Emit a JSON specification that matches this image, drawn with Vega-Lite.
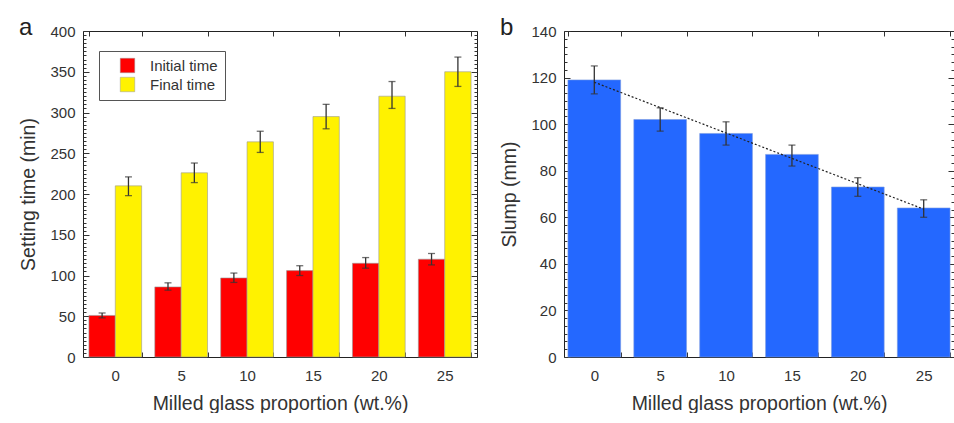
{
  "$schema": "https://vega.github.io/schema/vega-lite/v6.json",
  "background": "white",
  "padding": {"left": 18, "top": 15, "right": 0, "bottom": 0},
  "spacing": 21,
  "config": {
    "font": "Liberation Sans",
    "view": {"stroke": "#222", "strokeWidth": 1},
    "axis": {"labelFont": "Liberation Sans", "titleFont": "Liberation Sans", "labelColor": "#333", "titleColor": "#333", "labelFontSize": 15, "titleFontSize": 19.5, "titleFontWeight": "normal", "tickColor": "#333", "tickWidth": 1, "domainColor": "#333", "grid": false, "labelOverlap": false, "labelFlush": false, "domain": false},
    "title": {"font": "Liberation Sans", "fontSize": 24, "fontWeight": "normal", "color": "#222", "anchor": "start", "frame": "bounds"},
    "legend": {"labelFont": "Liberation Sans"}
  },
  "hconcat": [
    {
      "title": {"text": "a", "dy": 20},
      "width": 394,
      "height": 326,
      "data": {"values": [
        {"pct": "0", "series": "Initial time", "value": 51, "lo": 48, "hi": 54},
        {"pct": "0", "series": "Final time", "value": 210, "lo": 198, "hi": 221},
        {"pct": "5", "series": "Initial time", "value": 86, "lo": 82, "hi": 91},
        {"pct": "5", "series": "Final time", "value": 226, "lo": 214, "hi": 238},
        {"pct": "10", "series": "Initial time", "value": 97, "lo": 91.5, "hi": 103},
        {"pct": "10", "series": "Final time", "value": 264, "lo": 251, "hi": 277},
        {"pct": "15", "series": "Initial time", "value": 106, "lo": 100, "hi": 112},
        {"pct": "15", "series": "Final time", "value": 295, "lo": 280, "hi": 310},
        {"pct": "20", "series": "Initial time", "value": 115, "lo": 109, "hi": 122},
        {"pct": "20", "series": "Final time", "value": 320, "lo": 305, "hi": 338},
        {"pct": "25", "series": "Initial time", "value": 120, "lo": 113, "hi": 127},
        {"pct": "25", "series": "Final time", "value": 350, "lo": 332, "hi": 368}
      ]},
      "layer": [
        {
          "mark": {"type": "bar", "stroke": "#999", "strokeWidth": 0.6},
          "encoding": {
            "x": {"field": "pct", "type": "ordinal", "sort": ["0", "5", "10", "15", "20", "25"], "scale": {"paddingInner": 0.2, "paddingOuter": 0.09},
              "axis": {"orient": "bottom", "title": "Milled glass proportion (wt.%)", "labelAngle": 0, "tickBand": "extent", "offset": -5, "tickSize": 5, "labelPadding": 11, "titlePadding": 11}},
            "xOffset": {"field": "series", "type": "nominal", "sort": ["Initial time", "Final time"], "scale": {"paddingInner": 0, "paddingOuter": 0}},
            "y": {"field": "value", "type": "quantitative", "scale": {"domain": [0, 400], "nice": false},
              "axis": {"orient": "left", "title": "Setting time (min)", "values": [0, 50, 100, 150, 200, 250, 300, 350, 400], "offset": -6, "tickSize": 6, "labelPadding": 8, "titlePadding": 11}},
            "color": {"field": "series", "type": "nominal", "sort": ["Initial time", "Final time"], "scale": {"domain": ["Initial time", "Final time"], "range": ["#ff0000", "#fff200"]},
              "legend": {"orient": "none", "legendX": 16, "legendY": 20, "title": null, "direction": "vertical", "symbolType": "square", "symbolSize": 210, "symbolStrokeWidth": 0.5, "symbolStrokeColor": "#999", "symbolOpacity": 1, "labelFontSize": 15, "labelColor": "#333", "strokeColor": "#555", "fillColor": "white", "padding": 7, "rowPadding": 2, "labelOffset": 15, "symbolOffset": 14}}
          }
        },
        {
          "mark": {"type": "rule", "color": "#333", "strokeWidth": 1.3},
          "encoding": {
            "x": {"field": "pct", "type": "ordinal", "sort": ["0", "5", "10", "15", "20", "25"], "axis": {"orient": "top", "labels": false, "title": null, "tickBand": "extent", "offset": -5, "tickSize": 5}},
            "xOffset": {"field": "series", "type": "nominal", "sort": ["Initial time", "Final time"]},
            "y": {"field": "lo", "type": "quantitative", "axis": {"orient": "right", "labels": false, "title": null, "values": [0, 50, 100, 150, 200, 250, 300, 350, 400], "offset": -6, "tickSize": 6}},
            "y2": {"field": "hi"}
          }
        },
        {
          "mark": {"type": "tick", "color": "#333", "size": 7, "thickness": 1.3},
          "encoding": {
            "x": {"field": "pct", "type": "ordinal", "sort": ["0", "5", "10", "15", "20", "25"], "axis": null},
            "xOffset": {"field": "series", "type": "nominal", "sort": ["Initial time", "Final time"]},
            "y": {"field": "lo", "type": "quantitative", "axis": {"orient": "left", "labels": false, "title": null, "values": [5,10,15,20,25,30,35,40,45,55,60,65,70,75,80,85,90,95,105,110,115,120,125,130,135,140,145,155,160,165,170,175,180,185,190,195,205,210,215,220,225,230,235,240,245,255,260,265,270,275,280,285,290,295,305,310,315,320,325,330,335,340,345,355,360,365,370,375,380,385,390,395], "offset": -3, "tickSize": 3}}
          }
        },
        {
          "mark": {"type": "tick", "color": "#333", "size": 7, "thickness": 1.3},
          "encoding": {
            "x": {"field": "pct", "type": "ordinal", "sort": ["0", "5", "10", "15", "20", "25"], "axis": null},
            "xOffset": {"field": "series", "type": "nominal", "sort": ["Initial time", "Final time"]},
            "y": {"field": "hi", "type": "quantitative", "axis": {"orient": "right", "labels": false, "title": null, "values": [5,10,15,20,25,30,35,40,45,55,60,65,70,75,80,85,90,95,105,110,115,120,125,130,135,140,145,155,160,165,170,175,180,185,190,195,205,210,215,220,225,230,235,240,245,255,260,265,270,275,280,285,290,295,305,310,315,320,325,330,335,340,345,355,360,365,370,375,380,385,390,395], "offset": -3, "tickSize": 3}}
          }
        }
      ],
      "resolve": {"axis": {"x": "independent", "y": "independent"}}
    },
    {
      "title": {"text": "b", "dy": 20},
      "width": 390,
      "height": 326,
      "data": {"values": [
        {"pct": "0", "slump": 119, "lo": 113, "hi": 125},
        {"pct": "5", "slump": 102, "lo": 97, "hi": 107},
        {"pct": "10", "slump": 96, "lo": 91, "hi": 101},
        {"pct": "15", "slump": 87, "lo": 82, "hi": 91},
        {"pct": "20", "slump": 73, "lo": 69, "hi": 77},
        {"pct": "25", "slump": 64, "lo": 60, "hi": 67.5}
      ]},
      "layer": [
        {
          "mark": {"type": "bar", "color": "#2468ff", "stroke": "#7a9ae0", "strokeWidth": 0.6},
          "encoding": {
            "x": {"field": "pct", "type": "ordinal", "sort": ["0", "5", "10", "15", "20", "25"], "scale": {"paddingInner": 0.2, "paddingOuter": 0.06},
              "axis": {"orient": "bottom", "title": "Milled glass proportion (wt.%)", "labelAngle": 0, "tickBand": "extent", "offset": -5, "tickSize": 5, "labelPadding": 11, "titlePadding": 11}},
            "y": {"field": "slump", "type": "quantitative", "scale": {"domain": [0, 140], "nice": false},
              "axis": {"orient": "left", "title": "Slump (mm)", "values": [0, 20, 40, 60, 80, 100, 120, 140], "offset": -6, "tickSize": 6, "labelPadding": 8, "titlePadding": 11}}
          }
        },
        {
          "mark": {"type": "rule", "color": "#333", "strokeWidth": 1.3},
          "encoding": {
            "x": {"field": "pct", "type": "ordinal", "sort": ["0", "5", "10", "15", "20", "25"], "axis": {"orient": "top", "labels": false, "title": null, "tickBand": "extent", "offset": -5, "tickSize": 5}},
            "y": {"field": "lo", "type": "quantitative", "axis": {"orient": "right", "labels": false, "title": null, "values": [0, 20, 40, 60, 80, 100, 120, 140], "offset": -6, "tickSize": 6}},
            "y2": {"field": "hi"}
          }
        },
        {
          "mark": {"type": "tick", "color": "#333", "size": 7, "thickness": 1.3},
          "encoding": {
            "x": {"field": "pct", "type": "ordinal", "sort": ["0", "5", "10", "15", "20", "25"], "axis": null},
            "y": {"field": "lo", "type": "quantitative", "axis": {"orient": "left", "labels": false, "title": null, "values": [3.33,6.67,10,13.33,16.67,23.33,26.67,30,33.33,36.67,43.33,46.67,50,53.33,56.67,63.33,66.67,70,73.33,76.67,83.33,86.67,90,93.33,96.67,103.33,106.67,110,113.33,116.67,123.33,126.67,130,133.33,136.67], "offset": -3, "tickSize": 3}}
          }
        },
        {
          "mark": {"type": "tick", "color": "#333", "size": 7, "thickness": 1.3},
          "encoding": {
            "x": {"field": "pct", "type": "ordinal", "sort": ["0", "5", "10", "15", "20", "25"], "axis": null},
            "y": {"field": "hi", "type": "quantitative", "axis": {"orient": "right", "labels": false, "title": null, "values": [3.33,6.67,10,13.33,16.67,23.33,26.67,30,33.33,36.67,43.33,46.67,50,53.33,56.67,63.33,66.67,70,73.33,76.67,83.33,86.67,90,93.33,96.67,103.33,106.67,110,113.33,116.67,123.33,126.67,130,133.33,136.67], "offset": -3, "tickSize": 3}}
          }
        },
        {
          "data": {"values": [{"pct": "0", "fit": 118}, {"pct": "25", "fit": 63.5}]},
          "mark": {"type": "line", "color": "#222", "strokeWidth": 1.2, "strokeDash": [2, 2]},
          "encoding": {
            "x": {"field": "pct", "type": "ordinal", "sort": ["0", "5", "10", "15", "20", "25"], "axis": null},
            "y": {"field": "fit", "type": "quantitative", "axis": null}
          }
        }
      ],
      "resolve": {"axis": {"x": "independent", "y": "independent"}}
    }
  ]
}
